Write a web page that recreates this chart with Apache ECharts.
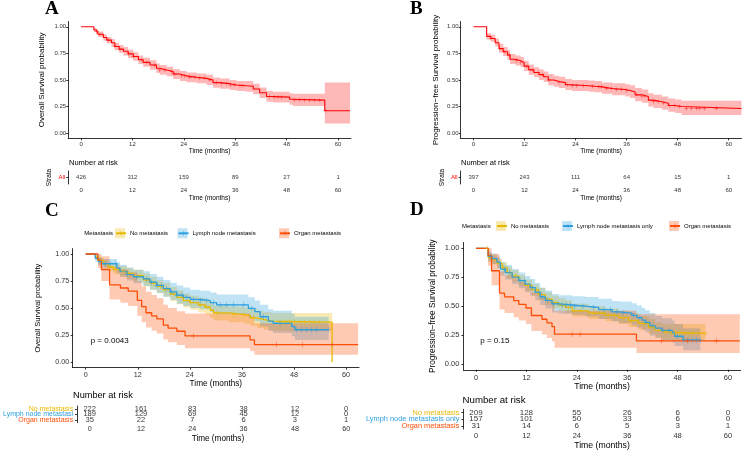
<!DOCTYPE html>
<html>
<head>
<meta charset="utf-8">
<script src="https://cdn.jsdelivr.net/npm/echarts@6/dist/echarts.min.js"></script>
<style>
  html, body { margin: 0; padding: 0; background: #fff; }
  #chart { width: 744px; height: 451px; }
</style>
</head>
<body>
<div id="chart"></div>
<script>
// ---- data ----
const TICKS = [0, 12, 24, 36, 48, 60];
const Y_TICKS = [0, 0.25, 0.5, 0.75, 1];
const RISK_TIMES = [0, 12, 24, 36, 48, 60];

// A: overall survival, all patients
const tA = [0, 3.0, 3.6, 4.0, 5.2, 6.0, 7.1, 7.9, 8.9, 9.9, 11.0, 12.2, 13.4, 14.5, 16.1, 17.6, 18.4, 20.0, 21.5, 23.1, 24.6, 27.0, 29.3, 30.8, 32.4, 34.7, 36.3, 38.6, 40.2, 41.7, 43.3, 44.8, 48.7, 49.5, 56.9, 62.8];
const sA = [1, 0.97, 0.953, 0.93, 0.90, 0.875, 0.85, 0.815, 0.79, 0.77, 0.745, 0.72, 0.69, 0.665, 0.64, 0.61, 0.594, 0.58, 0.556, 0.538, 0.525, 0.515, 0.50, 0.475, 0.465, 0.453, 0.445, 0.44, 0.415, 0.38, 0.344, 0.338, 0.319, 0.31, 0.21, 0.21];
const loA = [1, 0.95, 0.93, 0.905, 0.87, 0.845, 0.815, 0.78, 0.755, 0.73, 0.705, 0.68, 0.65, 0.625, 0.595, 0.565, 0.55, 0.535, 0.51, 0.49, 0.478, 0.468, 0.452, 0.427, 0.417, 0.405, 0.396, 0.39, 0.365, 0.33, 0.294, 0.288, 0.266, 0.255, 0.09, 0.09];
const hiA = [1, 0.99, 0.975, 0.955, 0.93, 0.905, 0.885, 0.85, 0.83, 0.81, 0.785, 0.76, 0.73, 0.71, 0.685, 0.655, 0.64, 0.625, 0.6, 0.585, 0.57, 0.56, 0.548, 0.523, 0.513, 0.5, 0.49, 0.49, 0.465, 0.43, 0.395, 0.39, 0.375, 0.37, 0.475, 0.475];
const censA = [3.7, 4.4, 6.4, 7.9, 9.1, 11.0, 12.2, 14.1, 15.3, 17.2, 18.4, 19.6, 21.1, 21.9, 23.5, 24.2, 25.4, 26.6, 27.7, 28.9, 30.1, 31.6, 32.8, 34.0, 34.9, 35.9, 37.1, 37.8, 44.0, 45.2, 46.0, 46.8, 49.9, 51.0, 52.2, 53.4, 54.5, 55.7, 57.0];
const riskA = [426, 312, 159, 89, 27, 1];

// B: progression-free survival, all patients
const tB = [0, 3.1, 4.1, 5.1, 6.0, 7.0, 8.0, 8.6, 9.9, 11.1, 11.9, 13.0, 14.2, 15.4, 16.5, 17.6, 18.9, 20.1, 21.6, 23.2, 27.1, 28.6, 30.2, 32.6, 35.7, 36.8, 38.0, 39.6, 41.1, 42.3, 44.3, 45.8, 47.4, 48.9, 63.0];
const sB = [1, 0.91, 0.89, 0.85, 0.795, 0.765, 0.735, 0.695, 0.68, 0.665, 0.63, 0.595, 0.57, 0.55, 0.53, 0.50, 0.485, 0.475, 0.455, 0.445, 0.44, 0.435, 0.42, 0.41, 0.40, 0.387, 0.36, 0.345, 0.31, 0.295, 0.28, 0.26, 0.25, 0.232, 0.232];
const loB = [1, 0.88, 0.86, 0.815, 0.755, 0.725, 0.69, 0.65, 0.635, 0.62, 0.585, 0.55, 0.525, 0.5, 0.48, 0.45, 0.435, 0.425, 0.405, 0.395, 0.39, 0.385, 0.37, 0.355, 0.345, 0.33, 0.30, 0.285, 0.25, 0.235, 0.22, 0.2, 0.19, 0.17, 0.17];
const hiB = [1, 0.94, 0.925, 0.89, 0.84, 0.81, 0.785, 0.745, 0.73, 0.715, 0.68, 0.645, 0.62, 0.6, 0.58, 0.555, 0.54, 0.53, 0.51, 0.5, 0.495, 0.49, 0.475, 0.47, 0.46, 0.45, 0.425, 0.41, 0.375, 0.36, 0.345, 0.325, 0.315, 0.305, 0.305];
const censB = [4.1, 6.2, 7.2, 8.4, 10.1, 11.1, 12.6, 13.8, 15.2, 16.3, 17.7, 20.1, 22.0, 23.2, 24.3, 25.9, 27.9, 29.4, 30.1, 31.3, 32.5, 33.6, 34.8, 36.0, 38.4, 39.6, 40.3, 42.3, 43.4, 44.6, 46.1, 47.3, 48.5, 50.0, 51.2, 52.4, 53.2, 54.3, 57.1];
const riskB = [397, 243, 111, 64, 15, 1];

// C: overall survival by metastasis
const tYC = [0, 2.2, 3.0, 4.1, 5.2, 6.4, 7.9, 9.5, 11.0, 13.3, 14.8, 16.4, 17.9, 19.5, 21.0, 22.5, 24.1, 26.0, 27.5, 28.7, 29.5, 33.0, 36.5, 38.0, 39.5, 41.0, 42.8, 56.8];
const sYC = [1, 0.97, 0.94, 0.91, 0.88, 0.86, 0.84, 0.82, 0.80, 0.76, 0.73, 0.70, 0.67, 0.63, 0.60, 0.57, 0.55, 0.53, 0.51, 0.48, 0.455, 0.44, 0.43, 0.41, 0.395, 0.38, 0.37, 0];
const loYC = [1, 0.95, 0.91, 0.875, 0.84, 0.815, 0.79, 0.77, 0.745, 0.70, 0.67, 0.64, 0.605, 0.565, 0.535, 0.505, 0.485, 0.46, 0.44, 0.41, 0.385, 0.37, 0.355, 0.335, 0.315, 0.30, 0.285, 0.285];
const hiYC = [1, 0.99, 0.97, 0.945, 0.92, 0.905, 0.89, 0.87, 0.855, 0.82, 0.79, 0.76, 0.735, 0.695, 0.665, 0.635, 0.615, 0.595, 0.58, 0.55, 0.525, 0.515, 0.505, 0.49, 0.475, 0.465, 0.455, 0.455];
const censYC = [3.3, 5.6, 6.8, 8.7, 9.8, 12.5, 14.1, 15.6, 17.2, 18.3, 20.2, 22.2, 24.1, 26.4, 27.9, 30.2, 34.1, 36.4, 38.7, 44.8, 45.9, 47.1, 48.2, 49.4, 50.5, 51.7, 52.8, 53.8];

const tBC = [0, 2.2, 2.9, 3.7, 7.2, 7.9, 9.5, 11.0, 13.3, 14.8, 16.4, 17.9, 19.5, 21.0, 22.5, 24.1, 26.4, 28.7, 30.2, 37.5, 39.0, 40.2, 42.1, 43.2, 47.5, 48.2, 56.0];
const sBC = [1, 0.96, 0.93, 0.91, 0.87, 0.84, 0.81, 0.79, 0.77, 0.74, 0.71, 0.68, 0.65, 0.62, 0.60, 0.58, 0.57, 0.55, 0.53, 0.498, 0.467, 0.42, 0.38, 0.36, 0.33, 0.30, 0.30];
const loBC = [1, 0.93, 0.895, 0.87, 0.82, 0.79, 0.755, 0.73, 0.705, 0.67, 0.64, 0.605, 0.575, 0.54, 0.52, 0.50, 0.49, 0.465, 0.445, 0.41, 0.375, 0.33, 0.29, 0.27, 0.24, 0.205, 0.205];
const hiBC = [1, 0.99, 0.97, 0.955, 0.925, 0.90, 0.875, 0.855, 0.84, 0.815, 0.79, 0.76, 0.735, 0.71, 0.69, 0.67, 0.66, 0.645, 0.625, 0.60, 0.57, 0.53, 0.49, 0.475, 0.445, 0.42, 0.42];
const censBC = [3.3, 4.5, 5.6, 6.8, 9.5, 11.8, 14.1, 15.2, 16.4, 17.5, 18.7, 19.8, 21.0, 22.2, 23.3, 24.8, 26.4, 27.9, 29.5, 31.0, 32.5, 34.1, 36.4, 38.3, 41.0, 44.8, 48.6, 49.8, 50.9, 52.1, 53.2, 55.9];

const tOC = [0, 2.8, 3.6, 5.5, 8.0, 9.8, 11.9, 12.9, 13.9, 15.2, 16.4, 17.9, 19.0, 21.0, 22.9, 37.9, 38.9, 62.8];
const sOC = [1, 0.943, 0.857, 0.714, 0.686, 0.657, 0.571, 0.514, 0.457, 0.429, 0.40, 0.343, 0.314, 0.286, 0.243, 0.206, 0.162, 0.162];
const loOC = [1, 0.87, 0.75, 0.58, 0.55, 0.52, 0.43, 0.37, 0.32, 0.29, 0.265, 0.21, 0.185, 0.16, 0.13, 0.10, 0.068, 0.068];
const hiOC = [1, 1, 0.98, 0.88, 0.86, 0.83, 0.75, 0.70, 0.65, 0.62, 0.59, 0.53, 0.50, 0.47, 0.45, 0.42, 0.36, 0.36];
const censOC = [24.8, 44.0, 50.0, 56.8];

const riskLabelsC = ['No metastasis', 'Lymph node metastasi', 'Organ metastasis'];
const riskC = [[222, 161, 83, 38, 12, 0], [189, 129, 69, 45, 12, 0], [35, 22, 7, 6, 3, 1]];

// D: progression-free survival by metastasis
const tYD = [0, 2.9, 3.8, 5.0, 6.2, 7.4, 8.6, 10.2, 11.7, 13.3, 14.9, 16.5, 18.1, 19.7, 21.3, 22.9, 26.8, 30.8, 34.0, 36.3, 38.7, 41.1, 42.7, 44.3, 45.9, 54.6];
const sYD = [1, 0.92, 0.90, 0.87, 0.83, 0.79, 0.76, 0.72, 0.68, 0.64, 0.60, 0.56, 0.53, 0.51, 0.49, 0.46, 0.44, 0.42, 0.40, 0.375, 0.35, 0.32, 0.29, 0.275, 0.265, 0.265];
const loYD = [1, 0.88, 0.86, 0.83, 0.78, 0.74, 0.71, 0.67, 0.63, 0.59, 0.55, 0.51, 0.48, 0.46, 0.44, 0.41, 0.39, 0.37, 0.345, 0.32, 0.295, 0.26, 0.23, 0.21, 0.20, 0.20];
const hiYD = [1, 0.96, 0.94, 0.91, 0.88, 0.84, 0.81, 0.77, 0.73, 0.69, 0.66, 0.62, 0.59, 0.57, 0.55, 0.52, 0.50, 0.48, 0.46, 0.44, 0.415, 0.39, 0.36, 0.35, 0.345, 0.345];
const censYD = [2.7, 6.5, 8.0, 9.5, 12.5, 14.5, 19.0, 20.5, 22.0, 23.5, 25.0, 28.0, 30.0, 31.5, 33.0, 35.0, 37.0, 40.0, 42.0, 45.0, 46.5, 47.5, 48.5, 49.5, 50.5, 51.5, 53.0, 54.6];

const tBD = [0, 2.9, 3.8, 5.0, 5.8, 7.0, 8.6, 10.2, 11.7, 12.9, 14.1, 15.3, 16.5, 18.1, 19.7, 22.9, 26.0, 29.2, 32.4, 34.0, 37.1, 38.3, 39.5, 40.3, 41.4, 42.7, 44.3, 46.7, 47.3, 49.3, 53.4];
const sBD = [1, 0.93, 0.91, 0.88, 0.82, 0.79, 0.75, 0.72, 0.69, 0.66, 0.62, 0.58, 0.55, 0.52, 0.51, 0.50, 0.49, 0.47, 0.45, 0.44, 0.42, 0.40, 0.38, 0.36, 0.33, 0.31, 0.29, 0.27, 0.24, 0.207, 0.207];
const loBD = [1, 0.89, 0.865, 0.83, 0.76, 0.73, 0.69, 0.655, 0.62, 0.59, 0.55, 0.51, 0.48, 0.445, 0.435, 0.425, 0.41, 0.39, 0.37, 0.355, 0.335, 0.315, 0.295, 0.275, 0.245, 0.225, 0.205, 0.185, 0.155, 0.12, 0.12];
const hiBD = [1, 0.97, 0.955, 0.93, 0.88, 0.855, 0.82, 0.79, 0.76, 0.735, 0.70, 0.66, 0.635, 0.605, 0.595, 0.585, 0.58, 0.565, 0.545, 0.54, 0.525, 0.505, 0.485, 0.465, 0.44, 0.415, 0.395, 0.375, 0.345, 0.31, 0.31];
const censBD = [3.5, 6.8, 8.0, 10.5, 11.5, 13.5, 15.8, 17.0, 18.5, 19.5, 20.5, 21.5, 22.5, 23.5, 25.5, 28.0, 30.5, 32.0, 33.5, 35.0, 37.5, 39.0, 40.5, 42.0, 44.5, 46.0, 48.0, 49.5, 50.5, 51.5, 52.5, 53.4];

const tOD = [0, 2.9, 3.7, 5.6, 6.8, 9.0, 10.2, 11.9, 13.2, 15.7, 16.9, 18.1, 18.7, 38.2, 62.8];
const sOD = [1, 0.935, 0.806, 0.613, 0.581, 0.548, 0.516, 0.484, 0.419, 0.387, 0.355, 0.323, 0.258, 0.20, 0.20];
const loOD = [1, 0.85, 0.68, 0.47, 0.44, 0.405, 0.375, 0.345, 0.285, 0.255, 0.225, 0.195, 0.14, 0.095, 0.095];
const hiOD = [1, 1, 0.95, 0.80, 0.77, 0.74, 0.71, 0.68, 0.62, 0.58, 0.55, 0.52, 0.46, 0.43, 0.43];
const censOD = [22.9, 24.8, 44.2, 50.3, 57.3];

const riskLabelsD = ['No metastasis', 'Lymph node metastasis only', 'Organ metastasis'];
const riskD = [[209, 128, 55, 26, 6, 0], [157, 101, 50, 33, 6, 0], [31, 14, 6, 5, 3, 1]];

// ---- styling ----
const FONT = '"Liberation Sans", Arial, sans-serif';
const RED = '#FF0000', RED_BAND = 'rgba(255,0,0,0.28)';
const YEL = '#E7B800', YEL_BAND = 'rgba(231,184,0,0.3)';
const BLU = '#2E9FDF', BLU_BAND = 'rgba(46,159,223,0.3)';
const ORG = '#FC4E07', ORG_BAND = 'rgba(252,78,7,0.3)';
const PLUS = 'path://M0,4.5h10v1h-10zM4.5,0h1v10h-1z';
const AX = {color: '#000', width: 0.8};

function stepAt(ts, ss, t) {
  let v = ss[0];
  for (let i = 0; i < ts.length; i++) if (ts[i] <= t) v = ss[i];
  return v;
}

const grids = [], xAxes = [], yAxes = [], series = [], legends = [], graphics = [];

function timeAxis(g, o) {
  return {
    gridIndex: g, type: 'value', min: -3, max: 63,
    axisLine: {onZero: false, lineStyle: AX},
    axisTick: {customValues: TICKS, length: 2, lineStyle: AX},
    axisLabel: {customValues: TICKS, fontSize: o.fs, color: '#333', margin: o.margin, fontFamily: FONT},
    splitLine: {show: false},
    name: 'Time (months)', nameLocation: 'middle', nameGap: o.gap,
    nameTextStyle: {fontSize: o.nameFs, color: '#000', fontFamily: FONT}
  };
}

function text(x, y, str, size, opts) {
  graphics.push({
    type: 'text', x: x, y: y, silent: true,
    style: Object.assign({text: str, fontSize: size, fontFamily: FONT, fill: '#000',
      align: 'left', verticalAlign: 'middle'}, opts || {})
  });
}

// confidence band as one step-shaped polygon, placed through the axes
function bandSeries(g, c) {
  return {
    type: 'custom', xAxisIndex: g, yAxisIndex: g, silent: true, z: 1, clip: true,
    encode: {x: 0, y: [1, 2]},
    data: c.t.map((t, i) => [t, c.lo[i], c.hi[i]]),
    renderItem: function (params, api) {
      if (params.dataIndex !== 0) return null;
      const n = c.t.length, up = [], dn = [];
      for (let i = 0; i < n; i++) {
        up.push(api.coord([c.t[i], c.hi[i]]));
        if (i < n - 1) up.push(api.coord([c.t[i + 1], c.hi[i]]));
        dn.push(api.coord([c.t[i], c.lo[i]]));
        if (i < n - 1) dn.push(api.coord([c.t[i + 1], c.lo[i]]));
      }
      return {type: 'polygon', shape: {points: up.concat(dn.reverse())},
        style: {fill: c.band, stroke: null}};
    }
  };
}

function panel(p) {
  const g = grids.length;
  grids.push({left: p.main[0], top: p.main[1], width: p.main[2], height: p.main[3]});
  xAxes.push(timeAxis(g, p.x));
  yAxes.push({
    gridIndex: g, type: 'value', min: -0.05, max: 1.05,
    axisLine: {show: true, onZero: false, lineStyle: AX},
    axisTick: {show: true, customValues: Y_TICKS, length: 2, lineStyle: AX},
    axisLabel: {customValues: Y_TICKS, formatter: v => v.toFixed(2), fontSize: p.y.fs,
      color: '#333', margin: p.y.margin, fontFamily: FONT},
    splitLine: {show: false},
    name: p.yTitle, nameLocation: 'middle', nameRotate: 90, nameGap: p.y.gap,
    nameTextStyle: {fontSize: p.y.nameFs, color: '#000', fontFamily: FONT}
  });

  p.curves.forEach(c => series.push(bandSeries(g, c)));
  p.curves.forEach(c => {
    series.push({
      type: 'line', name: c.name, xAxisIndex: g, yAxisIndex: g, step: 'end', silent: true,
      symbol: PLUS, showSymbol: false, lineStyle: {color: c.color, width: p.lw},
      itemStyle: {color: c.color}, z: 3,
      data: c.t.map((t, i) => [t, c.s[i]])
    });
    series.push({
      type: 'scatter', xAxisIndex: g, yAxisIndex: g, silent: true,
      symbol: PLUS, symbolSize: p.censSize, itemStyle: {color: c.color}, z: 4,
      data: c.cens.map(t => [t, stepAt(c.t, c.s, t)])
    });
  });

  // risk table
  const r = grids.length;
  grids.push({left: p.risk[0], top: p.risk[1], width: p.risk[2], height: p.risk[3]});
  xAxes.push(timeAxis(r, p.rx));
  yAxes.push({
    gridIndex: r, type: 'category', data: p.riskLabels, inverse: true,
    axisLine: {show: true, onZero: false, lineStyle: AX},
    axisTick: {show: true, length: 2, alignWithLabel: true, lineStyle: AX},
    axisLabel: {interval: 0, fontSize: p.ry.fs, margin: p.ry.margin, fontFamily: FONT,
      color: (v, i) => p.riskColors[i]},
    splitLine: {show: false},
    name: p.strataName || '', nameLocation: 'middle', nameRotate: 90, nameGap: p.ry.gap || 0,
    nameTextStyle: {fontSize: p.ry.nameFs || 6, color: '#000', fontFamily: FONT}
  });
  const pts = [];
  p.riskValues.forEach((row, i) => row.forEach((n, j) => pts.push([RISK_TIMES[j], p.riskLabels[i], n])));
  series.push({
    type: 'scatter', xAxisIndex: r, yAxisIndex: r, silent: true, symbolSize: 0,
    itemStyle: {color: 'transparent'},
    label: {show: true, position: 'inside', formatter: q => q.value[2], fontSize: p.riskFs,
      color: '#000', fontFamily: FONT},
    data: pts
  });

  // letters, annotations
  text(p.letter[0], p.letter[1], p.letter[2], 19,
    {fontFamily: '"Liberation Serif", "Times New Roman", serif', fontWeight: 'bold'});
  text(p.nar[0], p.nar[1], 'Number at risk', p.nar[2]);
  if (p.pval) text(p.pval[0], p.pval[1], p.pval[2], p.pval[3]);

  if (p.legend) {
    text(p.legend.title[0], p.legend.cy, 'Metastasis', 6);
    p.curves.forEach((c, k) => {
      const L = p.legend.lefts[k];
      legends.push({
        data: [c.name], left: L, top: p.legend.cy - 5, padding: 0, icon: 'rect',
        itemWidth: 10, itemHeight: 10, selectedMode: false,
        itemStyle: {color: c.band, borderWidth: 0},
        textStyle: {fontSize: 6, color: '#000', fontFamily: FONT}
      });
      legends.push({
        data: [c.name], left: L, top: p.legend.cy - 3, padding: 0,
        itemWidth: 10, itemHeight: 6, selectedMode: false, formatter: () => '',
        textStyle: {fontSize: 6}
      });
    });
  }
}

panel({
  main: [68.2, 21.5, 282.7, 116.9], risk: [68.2, 171, 282.7, 13],
  yTitle: 'Overall Survival probability', lw: 1.1, censSize: 4,
  x: {fs: 6, margin: 2.5, nameFs: 6.5, gap: 8.5},
  y: {fs: 6, margin: 2, nameFs: 8, gap: 22},
  rx: {fs: 6, margin: 3.5, nameFs: 6.5, gap: 9.5},
  ry: {fs: 6, margin: 3, nameFs: 6.5, gap: 15.5},
  strataName: 'Strata', riskLabels: ['All'], riskColors: [RED], riskValues: [riskA], riskFs: 6,
  curves: [{name: 'All A', color: RED, band: RED_BAND, t: tA, s: sA, lo: loA, hi: hiA, cens: censA}],
  letter: [45, 9, 'A'], nar: [69, 163, 7.5]
});

panel({
  main: [460.7, 21.5, 280.8, 116.9], risk: [460.7, 171, 280.8, 13],
  yTitle: 'Progression\u2212free Survival probability', lw: 1.1, censSize: 4,
  x: {fs: 6, margin: 2.5, nameFs: 6.5, gap: 8.5},
  y: {fs: 6, margin: 2, nameFs: 8, gap: 20.5},
  rx: {fs: 6, margin: 3.5, nameFs: 6.5, gap: 9.5},
  ry: {fs: 6, margin: 3, nameFs: 6.5, gap: 14.5},
  strataName: 'Strata', riskLabels: ['All'], riskColors: [RED], riskValues: [riskB], riskFs: 6,
  curves: [{name: 'All B', color: RED, band: RED_BAND, t: tB, s: sB, lo: loB, hi: hiB, cens: censB}],
  letter: [410, 9, 'B'], nar: [461, 163, 7.5]
});

panel({
  main: [72.7, 248.6, 286.3, 119], risk: [72.7, 406, 286.3, 16.7],
  yTitle: 'Overall Survival probability', lw: 1.3, censSize: 5.5,
  x: {fs: 7.2, margin: 4.3, nameFs: 8.2, gap: 12},
  y: {fs: 7.2, margin: 3.5, nameFs: 7.5, gap: 30.5},
  rx: {fs: 7.2, margin: 3, nameFs: 8.2, gap: 12.3},
  ry: {fs: 7, margin: 3.7},
  riskLabels: riskLabelsC, riskColors: [YEL, BLU, ORG], riskValues: riskC, riskFs: 7.5,
  curves: [
    {name: 'No metastasis', color: YEL, band: YEL_BAND, t: tYC, s: sYC, lo: loYC, hi: hiYC, cens: censYC},
    {name: 'Lymph node metastasis', color: BLU, band: BLU_BAND, t: tBC, s: sBC, lo: loBC, hi: hiBC, cens: censBC},
    {name: 'Organ metastasis', color: ORG, band: ORG_BAND, t: tOC, s: sOC, lo: loOC, hi: hiOC, cens: censOC}
  ],
  letter: [45, 211, 'C'], nar: [73, 395.7, 9.2], pval: [90.7, 340.7, 'p = 0.0043', 8],
  legend: {title: [84.3], cy: 233.3, lefts: [115, 177.5, 279]}
});

panel({
  main: [463.4, 242.5, 277.2, 127.3], risk: [463.4, 409.3, 277.2, 20],
  yTitle: 'Progression\u2212free Survival probability', lw: 1.3, censSize: 5.5,
  x: {fs: 7.5, margin: 3.7, nameFs: 8.7, gap: 10.7},
  y: {fs: 7.5, margin: 4, nameFs: 8.2, gap: 27},
  rx: {fs: 7.5, margin: 3, nameFs: 8.7, gap: 11.7},
  ry: {fs: 7.4, margin: 4},
  riskLabels: riskLabelsD, riskColors: [YEL, BLU, ORG], riskValues: riskD, riskFs: 8,
  curves: [
    {name: 'No metastasis', color: YEL, band: YEL_BAND, t: tYD, s: sYD, lo: loYD, hi: hiYD, cens: censYD},
    {name: 'Lymph node metastasis only', color: BLU, band: BLU_BAND, t: tBD, s: sBD, lo: loBD, hi: hiBD, cens: censBD},
    {name: 'Organ metastasis', color: ORG, band: ORG_BAND, t: tOD, s: sOD, lo: loOD, hi: hiOD, cens: censOD}
  ],
  letter: [410, 210.5, 'D'], nar: [462.5, 400.8, 9.7], pval: [480.3, 340.5, 'p = 0.15', 8],
  legend: {title: [462], cy: 226, lefts: [496, 562, 669]}
});

const chart = echarts.init(document.getElementById('chart'), null, {renderer: 'canvas'});
chart.setOption({
  animation: false,
  backgroundColor: '#fff',
  textStyle: {fontFamily: FONT},
  grid: grids,
  xAxis: xAxes,
  yAxis: yAxes,
  legend: legends,
  graphic: graphics,
  series: series
});
</script>
</body>
</html>
